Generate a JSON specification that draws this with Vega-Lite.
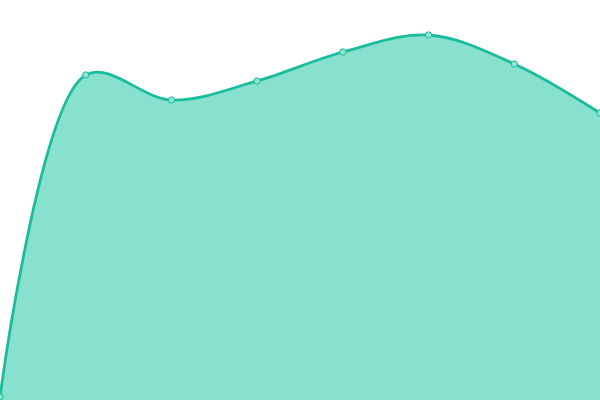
{
  "$schema": "https://vega.github.io/schema/vega-lite/v6.json",
  "width": 600,
  "height": 400,
  "autosize": {"type": "none"},
  "padding": 0,
  "view": {"stroke": null},
  "data": {
    "values": [
      {"i": 0, "v": 3},
      {"i": 1, "v": 325},
      {"i": 2, "v": 300},
      {"i": 3, "v": 319},
      {"i": 4, "v": 348},
      {"i": 5, "v": 365},
      {"i": 6, "v": 336},
      {"i": 7, "v": 287}
    ]
  },
  "encoding": {
    "x": {"field": "i", "type": "quantitative", "axis": null, "scale": {"domain": [0, 7], "nice": false, "zero": false}},
    "y": {"field": "v", "type": "quantitative", "axis": null, "scale": {"domain": [0, 400], "nice": false}}
  },
  "layer": [
    {"mark": {"type": "area", "interpolate": "catmull-rom", "color": "#88e0cf"}},
    {"mark": {"type": "line", "interpolate": "catmull-rom", "color": "#1abc9c", "strokeWidth": 2.8}},
    {"mark": {"type": "point", "filled": true, "fill": "#8ee3d2", "stroke": "#1abc9c", "strokeWidth": 1, "size": 40, "opacity": 1}}
  ]
}
